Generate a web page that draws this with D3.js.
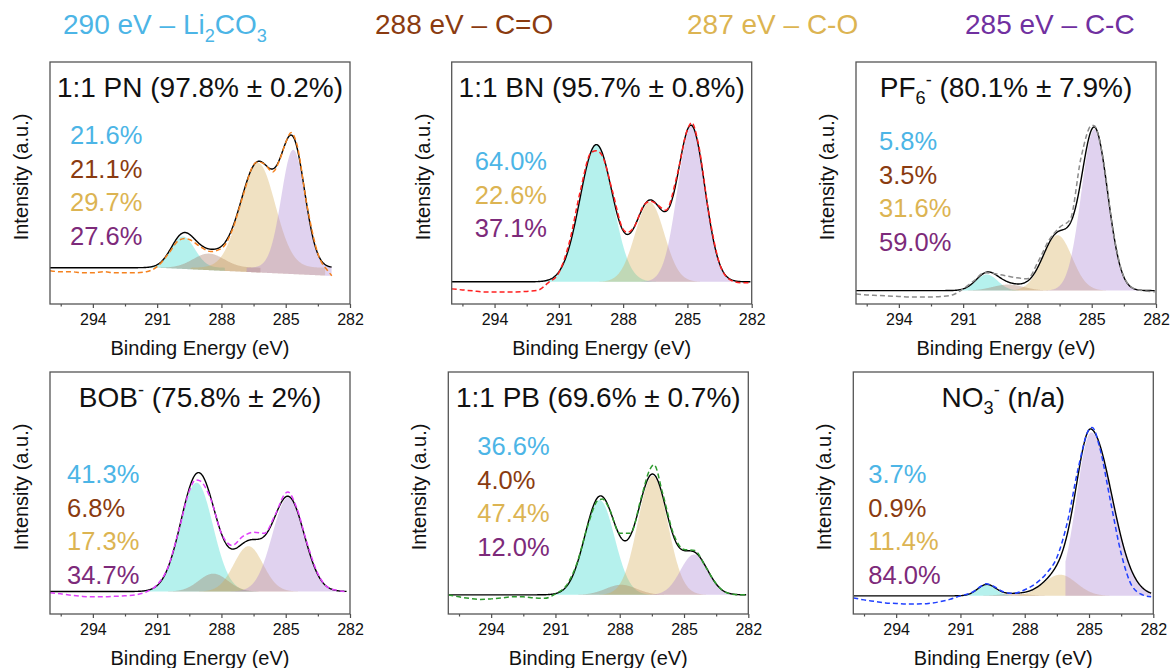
<!DOCTYPE html>
<html>
<head>
<meta charset="utf-8">
<script src="https://cdn.jsdelivr.net/npm/d3@7"></script>
<style>
  body { margin: 0; background: #fff; }
  svg { font-family: "Liberation Sans", Arial, sans-serif; }
</style>
</head>
<body>
<svg id="chart" width="1171" height="668"></svg>
<script>
// C 1s XPS fits, six electrolytes
// component order everywhere: Li2CO3 (290), C=O (288), C-O (287), C-C (285)

const headerParts = [
  [['290 eV – Li', ''], ['2', 'sub'], ['CO', ''], ['3', 'sub']],
  [['288 eV – C=O', '']],
  [['287 eV – C-O', '']],
  [['285 eV – C-C', '']]
];

const titleParts = [
  [['1:1 PN (97.8% ± 0.2%)', '']],
  [['1:1 BN (95.7% ± 0.8%)', '']],
  [['PF', ''], ['6', 'sub'], ['-', 'sup'], [' (80.1% ± 7.9%)', '']],
  [['BOB', ''], ['-', 'sup'], [' (75.8% ± 2%)', '']],
  [['1:1 PB (69.6% ± 0.7%)', '']],
  [['NO', ''], ['3', 'sub'], ['-', 'sup'], [' (n/a)', '']]
];

// area percentages (null = component not fitted)
const pctLi2CO3 = [21.6, 64.0, 5.8, 41.3, 36.6, 3.7];
const pctCdO = [21.1, null, 3.5, 6.8, 4.0, 0.9];
const pctCO = [29.7, 22.6, 31.6, 17.3, 47.4, 11.4];
const pctCC = [27.6, 37.1, 59.0, 34.7, 12.0, 84.0];

// fitted peaks (binding energy, height in a.u., FWHM high-BE side, FWHM low-BE side)
const baseline = [36, 22, 13.3, 22.3, 19, 18];
const peakCenter = [
  [289.8, 288.6, 286.3, 284.65],
  [289.25, 288.5, 286.76, 284.82],
  [289.9, 288.9, 286.6, 284.87],
  [289.16, 288.38, 286.74, 284.88],
  [288.94, 287.93, 286.46, 284.53],
  [289.78, 288.5, 286.35, 284.9]
];
const peakHeight = [
  [31, 14, 104, 117],
  [136, 0, 79, 154],
  [16, 6, 55, 160],
  [108, 17.7, 45, 93.4],
  [94, 10, 118, 40],
  [11, 2, 21, 162]
];
const fwhmHigh = [
  [1.3, 1.7, 1.9, 1.3],
  [1.8, 1.5, 1.6, 1.5],
  [1.2, 1.7, 1.6, 1.45],
  [1.8, 1.6, 1.6, 1.75],
  [1.65, 1.7, 1.65, 1.5],
  [1.0, 1.6, 1.8, 1.6]
];
const fwhmLow = [
  [1.3, 1.7, 1.9, 1.3],
  [1.8, 1.5, 1.6, 1.5],
  [1.2, 1.7, 1.6, 1.45],
  [1.8, 1.6, 1.6, 1.75],
  [1.65, 1.7, 1.65, 1.5],
  [1.0, 1.6, 1.8, 2.3]
];
// highest binding energy at which each component is shaded
const fillFrom = [
  [296, 296, 296, 296],
  [296, 296, 296, 296],
  [296, 296, 296, 296],
  [296, 296, 296, 296],
  [296, 296, 296, 296],
  [296, 296, 296, 286.1]
];
// background under the shaded components, drop from 291 eV to 283 eV
const fillDrop = [8, 0, 0, 0, 0, 0];
const scanEnd = [282.85, 282.05, 282.05, 282.15, 282.1, 282.1];

// measured spectra (binding energy, intensity a.u.)
const rawPN = [[296,33],[295.5,32],[295,32],[294.5,31],[294,31],[293.5,32],[293,31],[292.5,31],[292,31],[291.5,32],[291,37],[290.5,49],[290,63],[289.7,65],[289.5,64],[289,57],[288.5,52],[288,55],[287.5,73],[287,107],[286.5,138],[286.3,141],[286,139],[285.6,131],[285.3,142],[285,160],[284.75,170],[284.5,160],[284,97],[283.5,50],[283,32],[282.85,28]];
const rawBN = [[296,15],[295.5,14],[295,13],[294.5,12],[294,12],[293.5,12],[293,12],[292.5,12.5],[292,13.5],[291.5,21],[291,31],[290.5,62],[290,112],[289.5,150],[289.25,152],[289,148],[288.5,112],[288,74],[287.8,71],[287.5,76],[287,99],[286.7,102],[286.5,100],[286,93],[285.5,126],[285,173],[284.8,180],[284.5,160],[284,90],[283.5,40],[283,24],[282.5,21],[282.05,21]];
const rawPF6 = [[296,10],[295.5,9],[295,8.5],[294.5,8],[294,7.5],[293.5,7],[293,7],[292.5,7],[292,7.5],[291.5,9],[291,15],[290.5,23],[290,31],[289.5,30],[289,28],[288.5,26],[288,25],[287.5,42],[287,63],[286.5,76],[286,84],[285.5,145],[285,177],[284.9,177],[284.5,148],[284,72],[283.5,27],[283,15],[282.5,13],[282.05,12]];
const rawBOB = [[296,21],[295.5,20],[295,18.5],[294.5,17.5],[294,17],[293.5,17],[293,17.5],[292.5,18],[292,19],[291.5,22],[291,29],[290.5,46],[290,82],[289.5,122],[289.2,133],[289,132],[288.5,114],[288,80],[287.5,68],[287,77],[286.5,81],[286,80],[285.5,98],[285,120],[284.9,121],[284.5,106],[284,70],[283.5,40],[283,26],[282.5,23],[282.15,22]];
const rawPB = [[296,19],[295.5,17],[295,15.5],[294.5,14.5],[294,15],[293.5,16],[293,17],[292.5,17],[292,16],[291.5,15.5],[291,20],[290.5,28],[290,50],[289.5,87],[289,113],[288.8,114],[288.5,105],[288,80],[287.5,80],[287,115],[286.6,143],[286.4,148],[286,120],[285.5,80],[285,64],[284.5,63],[284,47],[283.5,30],[283,21],[282.5,19],[282.1,19]];
const rawNO3 = [[296,16],[295.5,14],[295,12.5],[294.5,11],[294,10.5],[293.5,10],[293,10],[292.5,10.5],[292,12],[291.5,14.5],[291,18],[290.5,21],[290,28],[289.8,30],[289.5,28],[289,22],[288.5,20.5],[288,24],[287.5,30],[287,40],[286.5,56],[286,92],[285.5,145],[285,183],[284.85,185],[284.5,165],[284,112],[283.5,60],[283,28],[282.5,19],[282.1,17]];
const rawData = [rawPN, rawBN, rawPF6, rawBOB, rawPB, rawNO3];

const xTicks = [294, 291, 288, 285, 282];
const xMinor = [295.5, 292.5, 289.5, 286.5, 283.5];

// styles and layout
const textColors = ['#4cb5e6', '#8a3b10', '#dcb452', '#7d2a7a'];
const headerColors = ['#4cb5e6', '#8a3b10', '#dcb452', '#7030a0'];
const fillColors = ['#5ce0d6', '#a0705a', '#d4aa50', '#a57fd0'];
const fillOpacity = [0.45, 0.35, 0.35, 0.35];
const dashColors = ['#f5821f', '#ff2020', '#8c8c8c', '#e040fb', '#2e9a2e', '#2040ff'];

const headerX = [63, 375, 687, 965];
const panelLeft = [50, 451.7, 856, 50, 448.3, 853.3];
const panelTop = [62, 62, 62, 372, 372, 372];
const W = 300, H = 242;
const pctDx = [20, 23, 23, 17, 29, 15];
const pctDy = [82, 108, 88, 111, 83, 111];
const pctStep = 33.6;

const svg = d3.select('#chart');

// superscript / subscript helper
function richText(sel, parts, size) {
  let shift = 0;
  parts.forEach(([t, m]) => {
    const target = m === 'sub' ? size * 0.28 : m === 'sup' ? -size * 0.36 : 0;
    sel.append('tspan')
      .attr('dy', target - shift)
      .attr('font-size', m ? size * 0.65 : size)
      .text(t);
    shift = target;
  });
}

// header legend
headerParts.forEach((parts, i) => {
  const t = svg.append('text')
    .attr('x', headerX[i])
    .attr('y', 34)
    .attr('fill', headerColors[i])
    .attr('font-size', 28);
  richText(t, parts, 28);
});

function peakValue(e, p, k) {
  const c = peakCenter[p][k];
  const w = e >= c ? fwhmHigh[p][k] : fwhmLow[p][k];
  return peakHeight[p][k] * Math.exp(-4 * Math.LN2 * (e - c) * (e - c) / (w * w));
}

const pctSeries = [pctLi2CO3, pctCdO, pctCO, pctCC];

for (let p = 0; p < 6; p++) {
  const g = svg.append('g')
    .attr('transform', `translate(${panelLeft[p]},${panelTop[p]})`);

  const x = d3.scaleLinear().domain([296, 282]).range([0, W]);
  const y = d3.scaleLinear().domain([0, 240]).range([H, 0]);

  const clipId = 'clip' + p;
  g.append('clipPath').attr('id', clipId)
    .append('rect').attr('width', W).attr('height', H);

  const plot = g.append('g').attr('clip-path', `url(#${clipId})`);
  const grid = d3.range(296, scanEnd[p] - 1e-6, -0.02);
  const base = baseline[p];
  const fillBase = e => base - fillDrop[p] * Math.max(0, Math.min(1, (291 - e) / 8));

  // component fills
  for (let k = 0; k < 4; k++) {
    if (!peakHeight[p][k]) continue;
    const pts = grid.filter(e => e <= fillFrom[p][k] && peakValue(e, p, k) > 0.05);
    plot.append('path')
      .datum(pts)
      .attr('fill', fillColors[k])
      .attr('fill-opacity', fillOpacity[k])
      .attr('d', d3.area()
        .x(e => x(e))
        .y0(e => y(fillBase(e)))
        .y1(e => y(base + peakValue(e, p, k))));
  }

  // fit envelope
  const envelope = grid.map(e => [e, base + d3.sum([0, 1, 2, 3], k => peakHeight[p][k] ? peakValue(e, p, k) : 0)]);
  plot.append('path')
    .datum(envelope)
    .attr('fill', 'none')
    .attr('stroke', '#000')
    .attr('stroke-width', 1.4)
    .attr('d', d3.line().x(d => x(d[0])).y(d => y(d[1])));

  // measured data
  plot.append('path')
    .datum(rawData[p])
    .attr('fill', 'none')
    .attr('stroke', dashColors[p])
    .attr('stroke-width', 1.5)
    .attr('stroke-dasharray', '5,3')
    .attr('d', d3.line().curve(d3.curveMonotoneX).x(d => x(d[0])).y(d => y(d[1])));

  // x axis
  const ax = g.append('g')
    .attr('transform', `translate(0,${H})`)
    .call(d3.axisBottom(x).tickValues(xTicks).tickFormat(d3.format('d'))
      .tickSizeInner(4).tickSizeOuter(0).tickPadding(6));
  ax.select('.domain').remove();
  ax.attr('font-family', null);
  ax.selectAll('line').attr('stroke', '#4d4d4d').attr('stroke-width', 1.2);
  ax.selectAll('text').attr('font-size', 16).attr('fill', '#111');

  const axm = g.append('g')
    .attr('transform', `translate(0,${H})`)
    .call(d3.axisBottom(x).tickValues(xMinor).tickFormat('').tickSizeInner(2.5).tickSizeOuter(0));
  axm.select('.domain').remove();
  axm.selectAll('line').attr('stroke', '#4d4d4d').attr('stroke-width', 1.2);

  // frame
  g.append('rect')
    .attr('width', W).attr('height', H)
    .attr('fill', 'none')
    .attr('stroke', '#555')
    .attr('stroke-width', 1.3);

  // axis titles
  g.append('text')
    .attr('x', W / 2).attr('y', H + 51)
    .attr('text-anchor', 'middle')
    .attr('font-size', 20)
    .attr('fill', '#111')
    .text('Binding Energy (eV)');
  g.append('text')
    .attr('transform', `translate(-22,${H / 2 - 6}) rotate(-90)`)
    .attr('text-anchor', 'middle')
    .attr('font-size', 20)
    .attr('fill', '#111')
    .text('Intensity (a.u.)');

  // panel title
  const t = g.append('text')
    .attr('x', W / 2).attr('y', 34.5)
    .attr('text-anchor', 'middle')
    .attr('fill', '#111');
  richText(t, titleParts[p], 28);

  // percentages
  let row = 0;
  pctSeries.forEach((s, k) => {
    if (s[p] == null) return;
    g.append('text')
      .attr('x', pctDx[p])
      .attr('y', pctDy[p] + row * pctStep)
      .attr('font-size', 25.5)
      .attr('fill', textColors[k])
      .text(d3.format('.1f')(s[p]) + '%');
    row++;
  });
}
</script>
</body>
</html>
